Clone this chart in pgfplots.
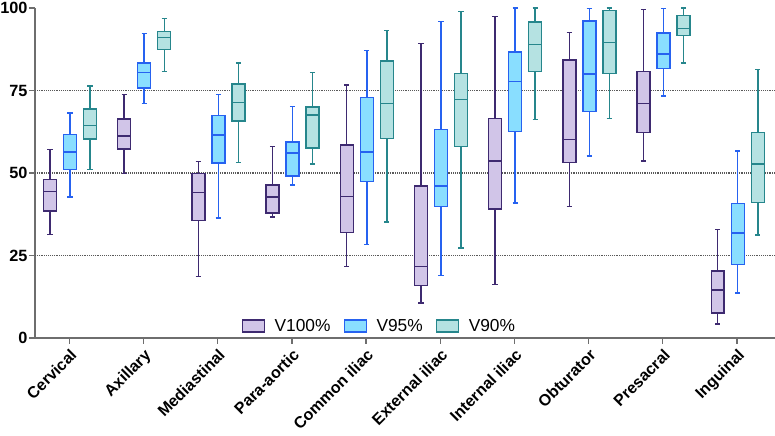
\documentclass[border=0pt]{standalone}
\usepackage{fontspec}
\setmainfont{Liberation Sans}
\usepackage{pgfplots}
\pgfplotsset{compat=1.18}

\definecolor{purEdge}{RGB}{62,42,112}
\definecolor{purFill}{RGB}{209,197,232}
\definecolor{bluEdge}{RGB}{38,98,240}
\definecolor{bluFill}{RGB}{137,222,255}
\definecolor{tealEdge}{RGB}{38,134,140}
\definecolor{tealFill}{RGB}{181,226,226}
\definecolor{axisgray}{RGB}{110,110,110}

% half widths of a box and of a whisker cap (x units)
\def\bhw{0.0875}
\def\chw{0.036}

% one box: edge colour, fill colour, position,
% lower whisker, Q1, median, Q3, upper whisker
\newcommand{\bx}[8]{%
  \pgfmathsetmacro\boxL{#3-\bhw}\pgfmathsetmacro\boxR{#3+\bhw}%
  \pgfmathsetmacro\capL{#3-\chw}\pgfmathsetmacro\capR{#3+\chw}%
  \addplot[forget plot, draw=#1, line width=1.1pt, mark=none] coordinates {(#3,#4) (#3,#5)};
  \addplot[forget plot, draw=#1, line width=1.1pt, mark=none] coordinates {(#3,#7) (#3,#8)};
  \addplot[forget plot, draw=#1, line width=1.1pt, mark=none] coordinates {(\capL,#4) (\capR,#4)};
  \addplot[forget plot, draw=#1, line width=1.1pt, mark=none] coordinates {(\capL,#8) (\capR,#8)};
  \addplot[forget plot, draw=#1, fill=#2, line width=1.1pt, mark=none, line join=miter]
    coordinates {(\boxL,#5) (\boxR,#5) (\boxR,#7) (\boxL,#7)} -- cycle;
  \addplot[forget plot, draw=#1, line width=1.1pt, mark=none] coordinates {(\boxL,#6) (\boxR,#6)};
}

\begin{document}
\begin{tikzpicture}
\begin{axis}[
  scale only axis,
  width=555pt, height=247.5pt,
  xmin=-0.462, xmax=9.512,
  ymin=0, ymax=100,
  clip=false,
  axis x line*=bottom, axis y line*=left,
  axis line style={draw=axisgray, line width=1.1pt, -},
  tick style={draw=axisgray, line width=1pt},
  tick align=outside, major tick length=4.5pt,
  xtick={0,...,9},
  xticklabels={Cervical, Axillary, Mediastinal, Para-aortic, Common iliac,
    External iliac, Internal iliac, Obturator, Presacral, Inguinal},
  xticklabel style={rotate=45, anchor=north east, inner sep=2pt,
    font=\bfseries\fontsize{12}{14}\selectfont},
  ytick={0,25,50,75,100},
  yticklabel style={inner sep=1pt, font=\bfseries\fontsize{12.2}{14}\selectfont},
  /pgf/number format/assume math mode=true,
  extra y ticks={25,50,75},
  extra y tick labels={},
  extra y tick style={grid=major, major tick length=0pt,
    major grid style={densely dotted, black!65, line width=0.8pt}},
  legend style={at={(0.466,0.036)}, anchor=center, draw=none, fill=none,
    legend columns=3, font=\fontsize{13}{15}\selectfont,
    /tikz/every odd column/.append style={column sep=5pt},
    /tikz/every even column/.append style={column sep=8pt}},
  legend image code/.code={\draw[#1, line width=1pt] (0pt,-4.5pt) rectangle (16.5pt,4.5pt);},
]
% V100%
\bx{purEdge}{purFill}{-0.26}{31.4}{38.5}{44.4}{48.0}{57.1}
\bx{purEdge}{purFill}{0.74}{49.8}{57.3}{61.2}{66.4}{73.8}
\bx{purEdge}{purFill}{1.74}{18.7}{35.6}{44.1}{49.8}{53.5}
\bx{purEdge}{purFill}{2.74}{36.7}{37.9}{42.7}{46.4}{58.1}
\bx{purEdge}{purFill}{3.74}{21.7}{32.0}{42.9}{58.5}{76.7}
\bx{purEdge}{purFill}{4.74}{10.6}{15.9}{21.7}{46.0}{89.2}
\bx{purEdge}{purFill}{5.74}{16.2}{39.1}{53.6}{66.5}{97.5}
\bx{purEdge}{purFill}{6.74}{39.9}{53.2}{60.1}{84.2}{92.6}
\bx{purEdge}{purFill}{7.74}{53.6}{62.3}{71.0}{80.7}{99.5}
\bx{purEdge}{purFill}{8.74}{4.3}{7.6}{14.5}{20.3}{32.8}
% V95%
\bx{bluEdge}{bluFill}{0.01}{42.7}{51.1}{56.3}{61.7}{68.2}
\bx{bluEdge}{bluFill}{1.01}{71.0}{75.7}{80.5}{83.3}{92.2}
\bx{bluEdge}{bluFill}{2.01}{36.4}{53.0}{61.5}{67.5}{73.8}
\bx{bluEdge}{bluFill}{3.01}{46.4}{49.1}{56.1}{59.4}{70.1}
\bx{bluEdge}{bluFill}{4.01}{28.3}{47.4}{56.4}{72.9}{87.1}
\bx{bluEdge}{bluFill}{5.01}{19.0}{39.9}{46.0}{63.1}{95.9}
\bx{bluEdge}{bluFill}{6.01}{40.9}{62.6}{77.8}{86.6}{100}
\bx{bluEdge}{bluFill}{7.01}{55.1}{68.7}{80.0}{96.0}{99.8}
\bx{bluEdge}{bluFill}{8.01}{73.3}{81.7}{86.1}{92.4}{99.8}
\bx{bluEdge}{bluFill}{9.01}{13.6}{22.2}{31.8}{40.7}{56.6}
% V90%
\bx{tealEdge}{tealFill}{0.28}{51.1}{60.3}{64.4}{69.4}{76.3}
\bx{tealEdge}{tealFill}{1.28}{80.7}{87.4}{91.1}{92.9}{96.8}
\bx{tealEdge}{tealFill}{2.28}{53.2}{65.8}{71.4}{76.9}{83.3}
\bx{tealEdge}{tealFill}{3.28}{52.7}{57.6}{67.6}{70.0}{80.4}
\bx{tealEdge}{tealFill}{4.28}{35.1}{60.4}{71.1}{84.0}{93.2}
\bx{tealEdge}{tealFill}{5.28}{27.3}{58.1}{72.2}{80.1}{99.0}
\bx{tealEdge}{tealFill}{6.28}{66.2}{80.7}{88.9}{95.7}{100}
\bx{tealEdge}{tealFill}{7.28}{66.5}{80.1}{89.6}{99.3}{100}
\bx{tealEdge}{tealFill}{8.28}{83.3}{91.6}{93.8}{97.8}{100}
\bx{tealEdge}{tealFill}{9.28}{31.2}{41.1}{52.7}{62.3}{81.3}

\addlegendimage{draw=purEdge, fill=purFill}
\addlegendentry{V100\%}
\addlegendimage{draw=bluEdge, fill=bluFill}
\addlegendentry{V95\%}
\addlegendimage{draw=tealEdge, fill=tealFill}
\addlegendentry{V90\%}

\coordinate (bbsw) at (rel axis cs:-0.0473,-0.294);
\coordinate (bbne) at (rel axis cs:1,1.0242);
\end{axis}
\pgfresetboundingbox
\useasboundingbox (bbsw) rectangle (bbne);
\end{tikzpicture}
\end{document}
